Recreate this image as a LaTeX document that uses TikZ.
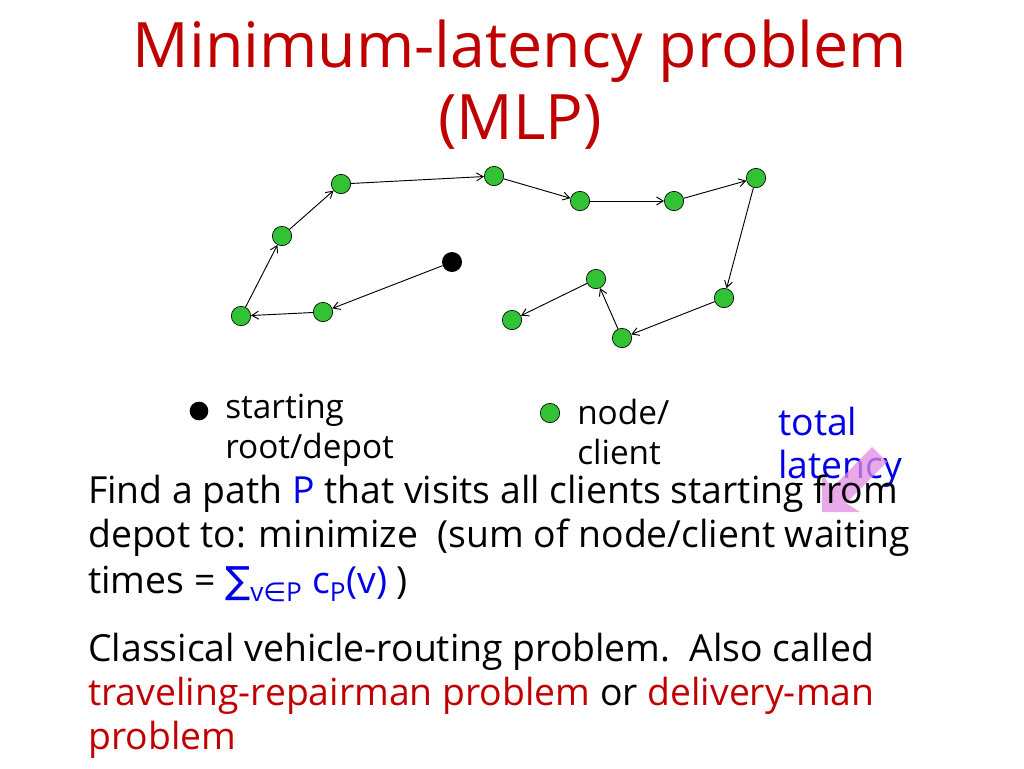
\documentclass[tikz,border=0pt]{standalone}
\usepackage{fontspec}
\setmainfont{Open Sans}
\newfontfamily\symf{DejaVu Sans}
\usetikzlibrary{arrows.meta}
\begin{document}
\begin{tikzpicture}[x=0.75pt,y=-0.75pt,
  cl/.style={circle,draw=black,fill=green!70!black!80,line width=0.5pt,minimum size=14.5pt,inner sep=0pt},
  dp/.style={circle,fill=black,minimum size=15pt,inner sep=0pt},
  ar/.style={-{Straight Barb[length=5pt,width=6pt]},line width=0.7pt},
  txt/.style={anchor=west,inner sep=0pt,font=\fontsize{28}{31}\selectfont}]
\useasboundingbox (0,0) rectangle (1024,768);
\definecolor{tred}{RGB}{192,0,0}
\definecolor{tblue}{RGB}{0,0,230}
\node[text=tred,font=\fontsize{47}{54}\selectfont,align=center] (title) at (520,85) {Minimum-latency problem\\(MLP)};
\node[dp] (d) at (452,262) {};
\node[cl] (a1) at (323,312) {};
\node[cl] (a2) at (241,316) {};
\node[cl] (a3) at (282,236) {};
\node[cl] (a4) at (341,184) {};
\node[cl] (a5) at (494,176) {};
\node[cl] (a6) at (580,201) {};
\node[cl] (a7) at (674,201) {};
\node[cl] (a8) at (756,178) {};
\node[cl] (a9) at (724,298) {};
\node[cl] (a10) at (622,338) {};
\node[cl] (a11) at (596,279) {};
\node[cl] (a12) at (512,320) {};
\draw[ar] (d)--(a1); \draw[ar] (a1)--(a2); \draw[ar] (a2)--(a3); \draw[ar] (a3)--(a4);
\draw[ar] (a4)--(a5); \draw[ar] (a5)--(a6); \draw[ar] (a6)--(a7); \draw[ar] (a7)--(a8);
\draw[ar] (a8)--(a9); \draw[ar] (a9)--(a10); \draw[ar] (a10)--(a11); \draw[ar] (a11)--(a12);
\node[dp,minimum size=14pt] (ld) at (199,411) {};
\node[txt,font=\fontsize{25}{30}\selectfont,align=left] (lt1) at (225,430) {starting\\root/depot};
\node[cl] (lc) at (550,413) {};
\node[txt,font=\fontsize{25}{30}\selectfont,align=left] (lt2) at (577,432) {node/\\client};
\node[txt,font=\fontsize{28}{32}\selectfont,align=left,text=tblue] (tl) at (778,447) {total\\latency};
\fill[violet!50!magenta!45,opacity=0.75] (872,447)--(887,462)--(846,503)--(860,512)--(822,512)--(822,474)--(832,488)--cycle;
\node[txt] (p1) at (88,494) {Find a path \textcolor{tblue}{P} that visits all clients starting from};
\node[txt] (p2) at (88,538) {depot to: minimize\ \ (sum of node/client waiting};
\node[txt] (p3) at (88,584) {times = \textcolor{tblue}{{\symf ∑}\textsubscript{v{\symf ∈}P} c\textsubscript{P}(v)} )};
\node[txt] (q1) at (88,652) {Classical vehicle-routing problem.\ \ Also called};
\node[txt] (q2) at (88,696) {\textcolor{tred}{traveling-repairman problem} or \textcolor{tred}{delivery-man}};
\node[txt] (q3) at (88,740) {\textcolor{tred}{problem}};
\end{tikzpicture}
\end{document}
